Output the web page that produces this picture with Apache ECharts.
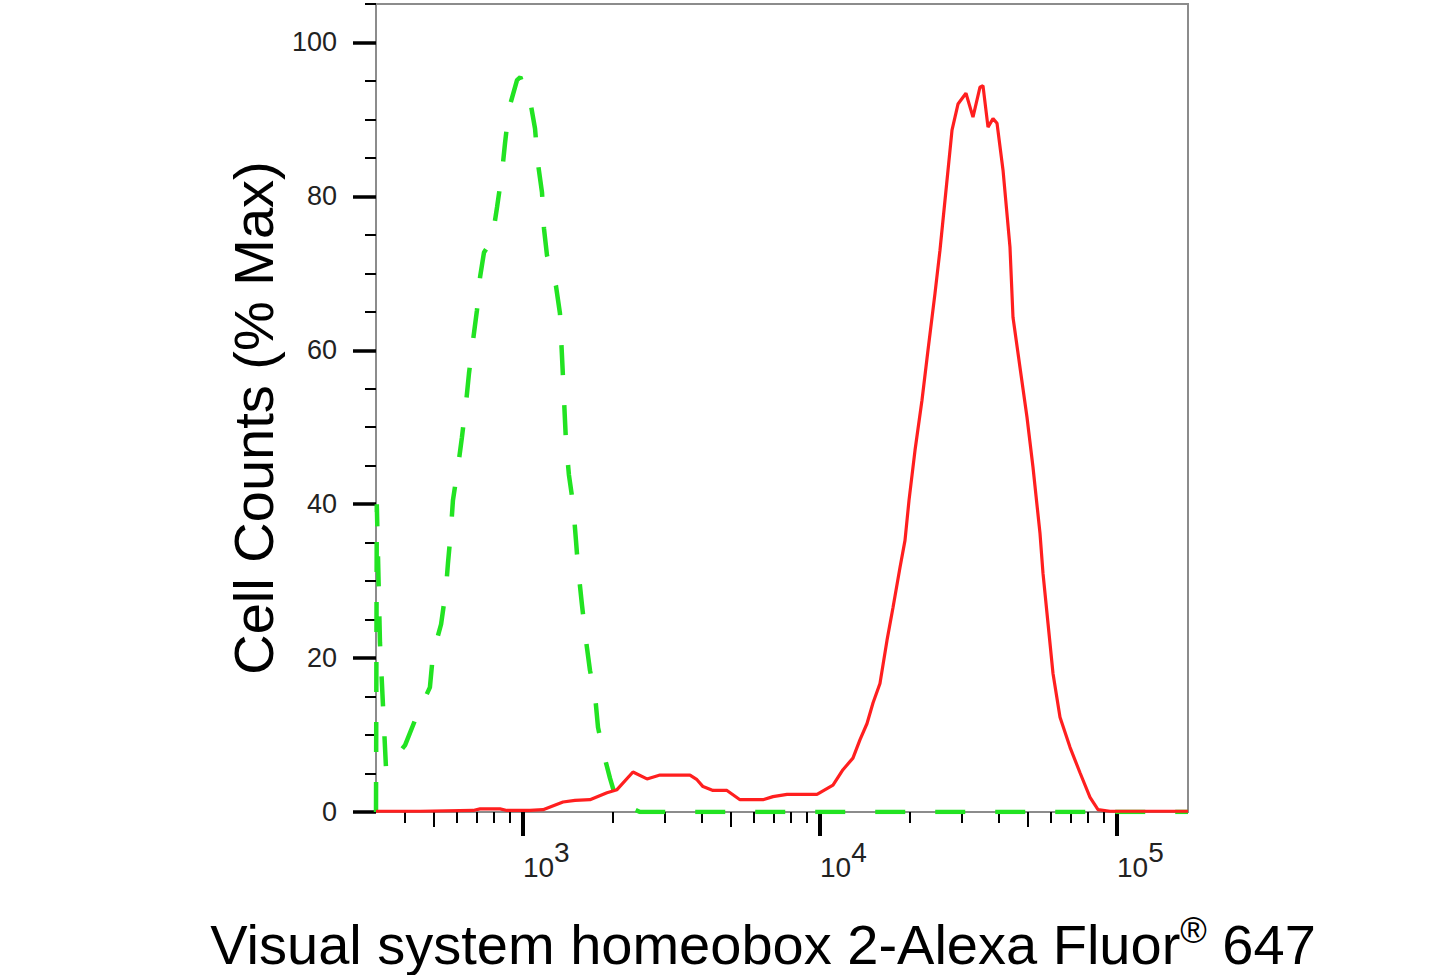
<!DOCTYPE html>
<html><head><meta charset="utf-8">
<script src="https://cdn.jsdelivr.net/npm/echarts@6.0.0/dist/echarts.min.js"></script>
<style>html,body{margin:0;padding:0;background:#fff;}#chart{width:1444px;height:975px;}</style>
</head><body><div id="chart"></div>
<script>
// Isotype control (green dashed)
const isotypeIntensity = [320,322,330,346,371,401,440,486,498,530,550,559,572,581,604,623,643,658,679,700,717,739,770,793,818,850,870,897,955,980,1016,1056,1098,1123,1159,1177,1205,1291,1332,1364,1395,1428,1474,1508,1532,1580,1630,1681,1748,1789,1874,1963,2041,2188,2328,2477,173400];
const isotypePercent   = [0,40,22,5.5,7,8.7,12.6,16.2,20.6,24.4,28.8,32.3,36.6,40.5,44.8,48.7,53.1,57,61.3,65.2,69.5,72.7,73.8,75.2,78.6,83.1,86.9,91.4,95.1,95.5,93.8,92.5,88.8,84.3,80.5,75.8,72.3,68.4,64.8,56.4,48.3,43.8,40.1,35.3,31.8,26.9,22.3,18.4,15.2,11.0,7.4,4.4,2.2,1.0,0.5,0,0];
// Sample (red solid)
const sampleIntensity = [320,450,679,717,837,883,1056,1168,1364,1497,1681,1918,2073,2346,2615,2893,3250,3650,3854,4037,4363,4862,5378,6427,6947,7745,9770,11060,11950,12910,13640,14400,15090,15920,16810,17620,18600,19330,19940,20890,22050,23100,24390,25350,26980,27830,29150,31010,32740,34570,35380,36790,38240,39450,41330,43620,44650,47130,49770,52140,55050,56350,58580,60890,64290,69480,75070,81140,86300,94710,173400];
const samplePercent   = [0.1,0.1,0.2,0.4,0.4,0.2,0.2,0.3,1.3,1.5,1.6,2.5,2.9,5.2,4.3,4.8,4.8,4.8,4.2,3.3,2.8,2.8,1.6,1.6,2.0,2.3,2.3,3.5,5.5,7.0,9.4,11.5,14.2,16.7,22.3,26.6,31.8,35.3,40.5,47,53.5,60,67.4,73,83.4,88.6,92,93.4,90.3,94.2,94.4,89,90.1,89.5,83.4,73.4,64.3,57.8,51.3,44.8,36.2,31,24.5,18,12.3,8.4,5.1,1.9,0.3,0.1,0.1];

const xMajorTicks = [1000, 10000, 100000];
const xMidTicks = [500, 5000, 50000];
const xMinorTicks = [400,600,700,800,900,2000,3000,4000,6000,7000,8000,9000,20000,30000,40000,60000,70000,80000,90000];
const yMajorTicks = [0,20,40,60,80,100];
const yMinorTicks = [5,10,15,25,30,35,45,50,55,65,70,75,85,90,95,105];
const xMin = 320, xMax = 173400, yMin = 0, yMax = 105;

const FONT = "'Liberation Sans', Arial, Helvetica, sans-serif";
const lg = v => Math.log10(v);

const chart = echarts.init(document.getElementById('chart'), null, {renderer: 'svg'});

function tickAxis(values, len, width, withLabels) {
  return {
    type: 'value', position: 'bottom', min: lg(xMin), max: lg(xMax),
    axisLine: {show: false}, splitLine: {show: false},
    axisTick: {show: true, customValues: values.map(lg), length: len, lineStyle: {color: '#000', width: width}},
    axisLabel: withLabels ? {
      show: true, customValues: values.map(lg), align: 'left', margin: 11,
      formatter: v => '{b|10}{s|' + Math.round(v) + '}',
      rich: {
        b: {fontFamily: FONT, fontSize: 28, color: '#222', lineHeight: 28, verticalAlign: 'bottom'},
        s: {fontFamily: FONT, fontSize: 28, color: '#222', lineHeight: 58, verticalAlign: 'middle'}
      }
    } : {show: false}
  };
}

const option = {
  backgroundColor: '#fff',
  animation: false,
  grid: {left: 376, right: 256, top: 4, bottom: 163, show: true, borderColor: '#8c8c8c', borderWidth: 2, containLabel: false, outerBoundsMode: 'none'},
  xAxis: [
    {
      type: 'log', logBase: 10, min: xMin, max: xMax, position: 'bottom',
      axisLine: {show: true, lineStyle: {color: '#8c8c8c', width: 2}},
      axisTick: {show: false}, axisLabel: {show: false}, splitLine: {show: false},
      name: '{a|Visual system homeobox 2-Alexa Fluor}{r|®}{a| 647}',
      nameLocation: 'middle', nameGap: 100,
      nameTextStyle: {
        padding: [0, 38, 0, 0],
        rich: {
          a: {fontFamily: FONT, fontSize: 56, color: '#000', lineHeight: 60, verticalAlign: 'bottom'},
          r: {fontFamily: FONT, fontSize: 36, color: '#000', lineHeight: 60, verticalAlign: 'top'}
        }
      }
    },
    tickAxis(xMinorTicks, 11, 2, false),
    tickAxis(xMidTicks, 15, 2, false),
    tickAxis(xMajorTicks, 24, 4, true)
  ],
  yAxis: [
    {
      type: 'value', min: yMin, max: yMax, position: 'left',
      axisLine: {show: true, lineStyle: {color: '#8c8c8c', width: 2}},
      splitLine: {show: false},
      axisTick: {show: true, customValues: yMajorTicks, length: 23, lineStyle: {color: '#000', width: 3.5}},
      axisLabel: {show: true, customValues: yMajorTicks, margin: 39, fontFamily: FONT, fontSize: 27, color: '#222'},
      name: 'Cell Counts (% Max)', nameLocation: 'middle', nameGap: 92,
      nameTextStyle: {fontFamily: FONT, fontSize: 56, color: '#000', padding: [0, 20, 0, 0]}
    },
    {
      type: 'value', min: yMin, max: yMax, position: 'left',
      axisLine: {show: false}, splitLine: {show: false}, axisLabel: {show: false},
      axisTick: {show: true, customValues: yMinorTicks, length: 11, lineStyle: {color: '#000', width: 2}}
    }
  ],
  series: [
    {
      name: 'Isotype control', type: 'line', xAxisIndex: 0, yAxisIndex: 0,
      data: isotypeIntensity.map((x, i) => [x, isotypePercent[i]]),
      showSymbol: false, smooth: false, z: 3,
      lineStyle: {color: '#22e322', width: 4.5, type: [30, 30], cap: 'butt'}
    },
    {
      name: 'Visual system homeobox 2', type: 'line', xAxisIndex: 0, yAxisIndex: 0,
      data: sampleIntensity.map((x, i) => [x, samplePercent[i]]),
      showSymbol: false, smooth: false, z: 4,
      lineStyle: {color: '#ff1f1f', width: 3.2}
    }
  ]
};
chart.setOption(option);
</script>
</body></html>
